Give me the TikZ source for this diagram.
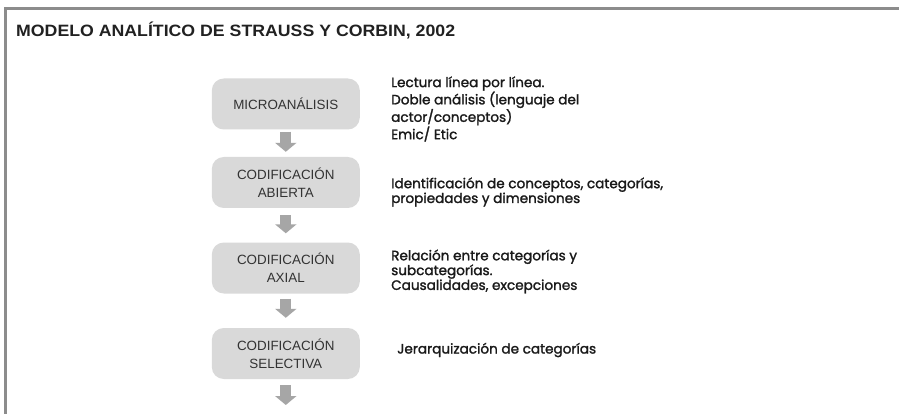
\documentclass[tikz,border=0pt]{standalone}
\usepackage{fontspec}
\setmainfont{Liberation Sans}
\newfontfamily\gothic{Poppins}[FakeBold=1.6]
\usetikzlibrary{arrows.meta}
\definecolor{boxgray}{HTML}{D9D9D9}
\definecolor{arrgray}{HTML}{A6A6A6}
\definecolor{framegray}{HTML}{8C8C8C}
\definecolor{boxtxt}{HTML}{333333}
\definecolor{notetxt}{HTML}{1A1A1A}
\begin{document}
\begin{tikzpicture}[x=1pt,y=-1pt,
  stepbox/.style={rounded corners=12pt, fill=boxgray, minimum width=148pt,
    minimum height=51pt, inner sep=0pt, align=center, text=boxtxt,
    font=\fontsize{13.4}{18}\selectfont},
  note/.style={anchor=west, align=left, inner sep=0pt, text=notetxt,
    font=\gothic\fontsize{13.6}{14.8}\selectfont},
  fatarrow/.style={draw=arrgray, line width=11pt,
    -{Triangle[length=9pt,width=21pt,color=arrgray]}, shorten >=0pt}
]
\useasboundingbox (0,0) rectangle (899,414);
\fill[white] (0,0) rectangle (899,414);
\draw[framegray, line width=2.5pt] (5.5,414) -- (5.5,8.5) -- (899,8.5);
\node[anchor=west, inner sep=0pt, text=black!87] (title) at (16,31)
  {\scalebox{1.08}[1]{\fontsize{16.4}{19}\selectfont\bfseries MODELO ANALÍTICO DE STRAUSS Y CORBIN, 2002}};

\node[stepbox] (m) at (285.8,104) {MICROANÁLISIS};
\node[stepbox] (a) at (285.8,182.5) {CODIFICACIÓN\\ABIERTA};
\node[stepbox] (x) at (285.8,268) {CODIFICACIÓN\\AXIAL};
\node[stepbox] (s) at (285.8,353.5) {CODIFICACIÓN\\SELECTIVA};
\coordinate (e) at (285.8,405);

\draw[fatarrow] ([yshift=-2pt]m.south) -- ([yshift=5pt]a.north);
\draw[fatarrow] ([yshift=-7pt]a.south) -- ([yshift=9pt]x.north);
\draw[fatarrow] ([yshift=-5pt]x.south) -- ([yshift=10pt]s.north);
\draw[fatarrow] ([yshift=-6pt]s.south) -- (e);

\node[note] (n1) at (391,109) {Lectura línea por línea.\\Doble análisis (lenguaje del\\actor/conceptos)\\Emic/ Etic};
\node[note] (n2) at (391,192) {Identificación de conceptos, categorías,\\propiedades y dimensiones};
\node[note] (n3) at (391,271.5) {Relación entre categorías y\\subcategorías.\\Causalidades, excepciones};
\node[note] (n4) at (397,350) {Jerarquización de categorías};
\end{tikzpicture}
\end{document}
